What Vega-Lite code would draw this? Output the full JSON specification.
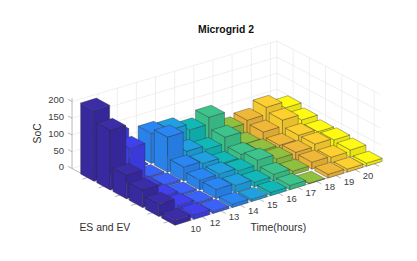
{"$schema":"https://vega.github.io/schema/vega-lite/v6.json","width":417,"height":261,"padding":0,"autosize":{"type":"none"},"background":"white","config":{"view":{"stroke":null}},
"title":{"text":"Microgrid 2","anchor":"middle","frame":"group","dx":17.5,"offset":-35,"fontSize":10.4,"fontWeight":"bold","font":"Liberation Sans","color":"#111111"},
"datasets":{
"bars":[
{"t":11,"es":1,"soc":43},{"t":11,"es":2,"soc":33},{"t":11,"es":3,"soc":24},{"t":11,"es":4,"soc":26},{"t":11,"es":5,"soc":22},{"t":11,"es":6,"soc":9},
{"t":10,"es":1,"soc":62},{"t":10,"es":2,"soc":50},{"t":10,"es":3,"soc":31},{"t":10,"es":4,"soc":31},{"t":10,"es":5,"soc":18},{"t":10,"es":6,"soc":9},
{"t":9,"es":1,"soc":41},{"t":9,"es":2,"soc":32},{"t":9,"es":3,"soc":19},{"t":9,"es":4,"soc":24},{"t":9,"es":5,"soc":21},{"t":9,"es":6,"soc":11},
{"t":8,"es":1,"soc":33},{"t":8,"es":2,"soc":14},{"t":8,"es":3,"soc":20},{"t":8,"es":4,"soc":22},{"t":8,"es":5,"soc":12},{"t":8,"es":6,"soc":2},
{"t":7,"es":1,"soc":85},{"t":7,"es":2,"soc":52},{"t":7,"es":3,"soc":27},{"t":7,"es":4,"soc":36},{"t":7,"es":5,"soc":20},{"t":7,"es":6,"soc":13},
{"t":6,"es":1,"soc":65},{"t":6,"es":2,"soc":33},{"t":6,"es":3,"soc":18},{"t":6,"es":4,"soc":22},{"t":6,"es":5,"soc":14},{"t":6,"es":6,"soc":10},
{"t":5,"es":1,"soc":83},{"t":5,"es":2,"soc":45},{"t":5,"es":3,"soc":35},{"t":5,"es":4,"soc":30},{"t":5,"es":5,"soc":22},{"t":5,"es":6,"soc":7},
{"t":4,"es":1,"soc":90},{"t":4,"es":2,"soc":105},{"t":4,"es":3,"soc":42},{"t":4,"es":4,"soc":29},{"t":4,"es":5,"soc":28},{"t":4,"es":6,"soc":10},
{"t":3,"es":1,"soc":3},{"t":3,"es":2,"soc":5},{"t":3,"es":3,"soc":7},{"t":3,"es":4,"soc":6},{"t":3,"es":5,"soc":6},{"t":3,"es":6,"soc":7},
{"t":2,"es":1,"soc":125},{"t":2,"es":2,"soc":107},{"t":2,"es":3,"soc":14},{"t":2,"es":4,"soc":16},{"t":2,"es":5,"soc":16},{"t":2,"es":6,"soc":14},
{"t":1,"es":1,"soc":212},{"t":1,"es":2,"soc":178},{"t":1,"es":3,"soc":70},{"t":1,"es":4,"soc":52},{"t":1,"es":5,"soc":36},{"t":1,"es":6,"soc":15}],
"lines":[
{"k":"grid","x1":0.64,"y1":0,"z1":0,"x2":11.34,"y2":0,"z2":0},{"k":"grid","x1":0.64,"y1":0,"z1":50,"x2":11.34,"y2":0,"z2":48},{"k":"grid","x1":0.64,"y1":0,"z1":100,"x2":11.34,"y2":0,"z2":96},{"k":"grid","x1":0.64,"y1":0,"z1":150,"x2":11.34,"y2":0,"z2":144},{"k":"grid","x1":0.64,"y1":0,"z1":200,"x2":11.34,"y2":0,"z2":192},
{"k":"grid","x1":2,"y1":0,"z1":0,"x2":2,"y2":0,"z2":199},{"k":"grid","x1":3,"y1":0,"z1":0,"x2":3,"y2":0,"z2":198},{"k":"grid","x1":4,"y1":0,"z1":0,"x2":4,"y2":0,"z2":197},{"k":"grid","x1":5,"y1":0,"z1":0,"x2":5,"y2":0,"z2":197},{"k":"grid","x1":6,"y1":0,"z1":0,"x2":6,"y2":0,"z2":196},{"k":"grid","x1":7,"y1":0,"z1":0,"x2":7,"y2":0,"z2":195},{"k":"grid","x1":8,"y1":0,"z1":0,"x2":8,"y2":0,"z2":195},{"k":"grid","x1":9,"y1":0,"z1":0,"x2":9,"y2":0,"z2":194},{"k":"grid","x1":10,"y1":0,"z1":0,"x2":10,"y2":0,"z2":193},{"k":"grid","x1":11,"y1":0,"z1":0,"x2":11,"y2":0,"z2":192},{"k":"grid","x1":11.34,"y1":0,"z1":0,"x2":11.34,"y2":0,"z2":192},
{"k":"grid","x1":11.34,"y1":0,"z1":48,"x2":11.34,"y2":6.4,"z2":50},{"k":"grid","x1":11.34,"y1":0,"z1":96,"x2":11.34,"y2":6.4,"z2":100},{"k":"grid","x1":11.34,"y1":0,"z1":144,"x2":11.34,"y2":6.4,"z2":150},{"k":"grid","x1":11.34,"y1":0,"z1":192,"x2":11.34,"y2":6.4,"z2":200},
{"k":"grid","x1":11.34,"y1":1,"z1":0,"x2":11.34,"y2":1,"z2":193},{"k":"grid","x1":11.34,"y1":2,"z1":0,"x2":11.34,"y2":2,"z2":195},{"k":"grid","x1":11.34,"y1":3,"z1":0,"x2":11.34,"y2":3,"z2":196},{"k":"grid","x1":11.34,"y1":4,"z1":0,"x2":11.34,"y2":4,"z2":197},{"k":"grid","x1":11.34,"y1":5,"z1":0,"x2":11.34,"y2":5,"z2":198},{"k":"grid","x1":11.34,"y1":6,"z1":0,"x2":11.34,"y2":6,"z2":199},
{"k":"axis","x1":0.64,"y1":0,"z1":0,"x2":0.64,"y2":0,"z2":210},{"k":"axis","x1":0.64,"y1":0,"z1":0,"x2":0.64,"y2":6.4,"z2":0},{"k":"axis","x1":0.64,"y1":6.4,"z1":0,"x2":11.34,"y2":6.4,"z2":0},
{"k":"axis","x1":0.64,"y1":0,"z1":0,"x2":0.64,"y2":-0.25,"z2":0},{"k":"axis","x1":0.64,"y1":0,"z1":50,"x2":0.64,"y2":-0.25,"z2":50},{"k":"axis","x1":0.64,"y1":0,"z1":100,"x2":0.64,"y2":-0.25,"z2":100},{"k":"axis","x1":0.64,"y1":0,"z1":150,"x2":0.64,"y2":-0.25,"z2":150},{"k":"axis","x1":0.64,"y1":0,"z1":200,"x2":0.64,"y2":-0.25,"z2":200},
{"k":"axis","x1":0.64,"y1":1,"z1":0,"x2":0.34,"y2":1,"z2":0},{"k":"axis","x1":0.64,"y1":2,"z1":0,"x2":0.34,"y2":2,"z2":0},{"k":"axis","x1":0.64,"y1":3,"z1":0,"x2":0.34,"y2":3,"z2":0},{"k":"axis","x1":0.64,"y1":4,"z1":0,"x2":0.34,"y2":4,"z2":0},{"k":"axis","x1":0.64,"y1":5,"z1":0,"x2":0.34,"y2":5,"z2":0},{"k":"axis","x1":0.64,"y1":6,"z1":0,"x2":0.34,"y2":6,"z2":0},
{"k":"axis","x1":2,"y1":6.4,"z1":0,"x2":2,"y2":6.7,"z2":0},{"k":"axis","x1":3,"y1":6.4,"z1":0,"x2":3,"y2":6.7,"z2":0},{"k":"axis","x1":4,"y1":6.4,"z1":0,"x2":4,"y2":6.7,"z2":0},{"k":"axis","x1":5,"y1":6.4,"z1":0,"x2":5,"y2":6.7,"z2":0},{"k":"axis","x1":6,"y1":6.4,"z1":0,"x2":6,"y2":6.7,"z2":0},{"k":"axis","x1":7,"y1":6.4,"z1":0,"x2":7,"y2":6.7,"z2":0},{"k":"axis","x1":8,"y1":6.4,"z1":0,"x2":8,"y2":6.7,"z2":0},{"k":"axis","x1":9,"y1":6.4,"z1":0,"x2":9,"y2":6.7,"z2":0},{"k":"axis","x1":10,"y1":6.4,"z1":0,"x2":10,"y2":6.7,"z2":0},{"k":"axis","x1":11,"y1":6.4,"z1":0,"x2":11,"y2":6.7,"z2":0}]
},
"layer":[
{"data":{"name":"lines"},"transform":[
{"calculate":"81+(datum.x1-0.6)*19.15+(datum.y1-0.6)*16.2","as":"a1"},
{"calculate":"174-(datum.x1-0.6)*5.9+(datum.y1-0.6)*8.8-datum.z1*0.335","as":"b1"},
{"calculate":"81+(datum.x2-0.6)*19.15+(datum.y2-0.6)*16.2","as":"a2"},
{"calculate":"174-(datum.x2-0.6)*5.9+(datum.y2-0.6)*8.8-datum.z2*0.335","as":"b2"}],
"mark":{"type":"rule","strokeWidth":0.7},
"encoding":{
"x":{"field":"a1","type":"quantitative","scale":{"domain":[0,417]},"axis":null},
"y":{"field":"b1","type":"quantitative","scale":{"domain":[261,0]},"axis":null},
"x2":{"field":"a2"},"y2":{"field":"b2"},
"color":{"field":"k","type":"nominal","scale":{"domain":["grid","axis"],"range":["#e8e8e8","#999999"]},"legend":null}}},
{"data":{"name":"bars"},"transform":[
{"calculate":"sequence(0,12)","as":"v"},{"flatten":["v"]},
{"calculate":"floor(datum.v/4)","as":"f"},
{"calculate":"datum.t+'-'+datum.f","as":"shade"},
{"calculate":"datum.t+'_'+datum.es+'_'+datum.f","as":"face"},
{"calculate":"datum.t+0.41*[-1,-1,-1,-1,-1,1,1,-1,-1,1,1,-1][datum.v]","as":"X"},
{"calculate":"datum.es+0.41*[-1,1,1,-1,1,1,1,1,-1,-1,1,1][datum.v]","as":"Y"},
{"calculate":"datum.soc*[0,0,1,1,0,0,1,1,1,1,1,1][datum.v]","as":"Z"},
{"calculate":"81+(datum.X-0.6)*19.15+(datum.Y-0.6)*16.2","as":"a"},
{"calculate":"174-(datum.X-0.6)*5.9+(datum.Y-0.6)*8.8-datum.Z*0.335","as":"b"}],
"mark":{"type":"line","interpolate":"linear-closed","filled":true,"stroke":"#2a2a2a","strokeWidth":0.6,"strokeOpacity":0.6,"strokeJoin":"round"},
"encoding":{
"x":{"field":"a","type":"quantitative","scale":{"domain":[0,417]},"axis":null},
"y":{"field":"b","type":"quantitative","scale":{"domain":[261,0]},"axis":null},
"detail":{"field":"face"},
"order":{"field":"v","type":"quantitative"},
"fill":{"field":"shade","type":"nominal","legend":null,"scale":{
"domain":["1-0","1-1","1-2","2-0","2-1","2-2","3-0","3-1","3-2","4-0","4-1","4-2","5-0","5-1","5-2","6-0","6-1","6-2","7-0","7-1","7-2","8-0","8-1","8-2","9-0","9-1","9-2","10-0","10-1","10-2","11-0","11-1","11-2"],
"range":["#38299f","#352799","#3b2ca8","#3d3de4","#3a3ad8","#4040ee","#385eee","#3559e2","#3a62f8","#2882e8","#267cde","#2a86f2","#1f9bd8","#1d94ce","#20a0e0","#11b2b2","#10a9a9","#12b8b8","#3abe87","#37b480","#3cc48c","#8bba3e","#84b03b","#90c040","#e8b236","#dca933","#f0b838","#f5ca2e","#e9c02c","#fdd030","#f7f213","#eae512","#fffa14"]}}}},
{"data":{"values":[{"x":2,"n":"10"},{"x":3,"n":"12"},{"x":4,"n":"13"},{"x":5,"n":"14"},{"x":6,"n":"15"},{"x":7,"n":"16"},{"x":8,"n":"17"},{"x":9,"n":"18"},{"x":10,"n":"19"},{"x":11,"n":"20"}]},
"transform":[{"calculate":"81+(datum.x-0.6)*19.15+5.8*16.2","as":"a"},{"calculate":"174-(datum.x-0.6)*5.9+5.8*8.8","as":"b"}],
"mark":{"type":"text","font":"Liberation Sans","fontSize":9.5,"color":"#404040","dx":-6,"dy":12,"align":"center","baseline":"middle"},
"encoding":{"x":{"field":"a","type":"quantitative","scale":{"domain":[0,417]},"axis":null},"y":{"field":"b","type":"quantitative","scale":{"domain":[261,0]},"axis":null},"text":{"field":"n"}}},
{"data":{"values":[{"z":0},{"z":50},{"z":100},{"z":150},{"z":200}]},
"transform":[{"calculate":"81+0.04*19.15-0.6*16.2","as":"a"},{"calculate":"174-0.04*5.9-0.6*8.8-datum.z*0.335","as":"b"}],
"mark":{"type":"text","font":"Liberation Sans","fontSize":9.5,"color":"#404040","dx":-8,"dy":-1,"align":"right","baseline":"middle"},
"encoding":{"x":{"field":"a","type":"quantitative","scale":{"domain":[0,417]},"axis":null},"y":{"field":"b","type":"quantitative","scale":{"domain":[261,0]},"axis":null},"text":{"field":"z","type":"quantitative"}}},
{"data":{"values":[{"x":0.64,"y":0,"z":105,"n":"SoC"}]},
"transform":[{"calculate":"81+(datum.x-0.6)*19.15+(datum.y-0.6)*16.2","as":"a"},{"calculate":"174-(datum.x-0.6)*5.9+(datum.y-0.6)*8.8-datum.z*0.335","as":"b"}],
"mark":{"type":"text","font":"Liberation Sans","fontSize":10.4,"color":"#303030","dy":-34,"angle":270,"align":"center","baseline":"middle"},
"encoding":{"x":{"field":"a","type":"quantitative","scale":{"domain":[0,417]},"axis":null},"y":{"field":"b","type":"quantitative","scale":{"domain":[261,0]},"axis":null},"text":{"field":"n"}}},
{"data":{"values":[{"x":0.64,"y":4,"z":0,"n":"ES and EV"}]},
"transform":[{"calculate":"81+(datum.x-0.6)*19.15+(datum.y-0.6)*16.2","as":"a"},{"calculate":"174-(datum.x-0.6)*5.9+(datum.y-0.6)*8.8-datum.z*0.335","as":"b"}],
"mark":{"type":"text","font":"Liberation Sans","fontSize":10.4,"color":"#303030","dx":-32,"dy":24,"align":"center","baseline":"middle"},
"encoding":{"x":{"field":"a","type":"quantitative","scale":{"domain":[0,417]},"axis":null},"y":{"field":"b","type":"quantitative","scale":{"domain":[261,0]},"axis":null},"text":{"field":"n"}}},
{"data":{"values":[{"x":6,"y":6.4,"z":0,"n":"Time(hours)"}]},
"transform":[{"calculate":"81+(datum.x-0.6)*19.15+(datum.y-0.6)*16.2","as":"a"},{"calculate":"174-(datum.x-0.6)*5.9+(datum.y-0.6)*8.8-datum.z*0.335","as":"b"}],
"mark":{"type":"text","font":"Liberation Sans","fontSize":10.4,"color":"#303030","dy":35,"align":"center","baseline":"middle"},
"encoding":{"x":{"field":"a","type":"quantitative","scale":{"domain":[0,417]},"axis":null},"y":{"field":"b","type":"quantitative","scale":{"domain":[261,0]},"axis":null},"text":{"field":"n"}}}
]}
